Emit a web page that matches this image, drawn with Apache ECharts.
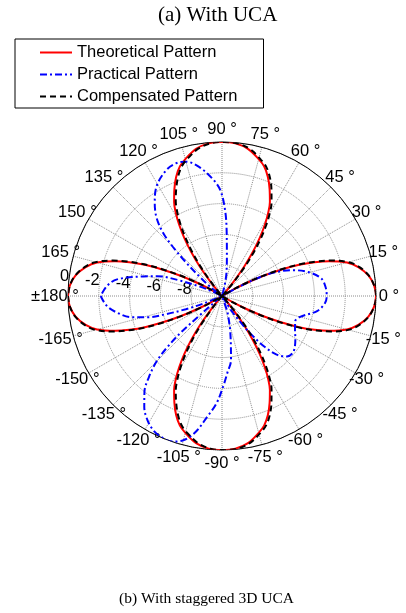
<!DOCTYPE html>
<html><head><meta charset="utf-8">
<script src="https://cdn.jsdelivr.net/npm/echarts@6/dist/echarts.min.js"></script>
<style>html,body{margin:0;padding:0;background:#fff}#c{width:406px;height:613px}</style>
</head><body><div id="c"></div>
<script>
// ---- data (angle in degrees, gain in dB) ----
const seriesNames = ['Theoretical Pattern', 'Practical Pattern', 'Compensated Pattern'];
const radialTicks = [-10, -8, -6, -4, -2, 0];
const angleStep = 15;

const theoAngles = [-180,-176,-172,-168,-165,-162,-160,-158,-156,-154,-152,-150,-148,
  -133,-131,-129,-127,-125,-123,-121,-119,-117,-114,-111,-108,-105,-100,-95,-90,-85,-80,-75,-72,-69,-66,-63,-61,-59,-57,-55,-53,-51,-49,-47,
  -32,-30,-28,-26,-24,-22,-20,-18,-15,-12,-8,-4,0,4,8,12,15,18,20,22,24,26,28,30,32,
  47,49,51,53,55,57,59,61,63,66,69,72,75,80,85,90,95,100,105,108,111,114,117,119,121,123,125,127,129,131,133,
  148,150,152,154,156,158,160,162,165,168,172,176,180];
const theoValues = [0,-0.1,-0.4,-0.95,-1.6,-2.7,-3.6,-4.6,-5.8,-7.0,-8.2,-9.2,-10,
  -10,-9.7,-8.8,-7.6,-6.5,-5.5,-4.6,-3.8,-3.15,-2.4,-1.7,-1.15,-0.8,-0.3,-0.05,0,-0.05,-0.3,-0.8,-1.15,-1.7,-2.4,-3.15,-3.8,-4.6,-5.5,-6.5,-7.6,-8.8,-9.7,-10,
  -10,-9.2,-8.2,-7.0,-5.8,-4.6,-3.6,-2.7,-1.6,-0.95,-0.4,-0.1,0,-0.1,-0.4,-0.95,-1.6,-2.7,-3.6,-4.6,-5.8,-7.0,-8.2,-9.2,-10,
  -10,-9.7,-8.8,-7.6,-6.5,-5.5,-4.6,-3.8,-3.15,-2.4,-1.7,-1.15,-0.8,-0.3,-0.05,0,-0.05,-0.3,-0.8,-1.15,-1.7,-2.4,-3.15,-3.8,-4.6,-5.5,-6.5,-7.6,-8.8,-9.7,-10,
  -10,-9.2,-8.2,-7.0,-5.8,-4.6,-3.6,-2.7,-1.6,-0.95,-0.4,-0.1,0];

const pracAngles = [-180,-175,-171,-167,-164,-162,-160,-158,-156,
  -141,-140,-139,-138.5,-137,-135,-132,-129,-125,-121,-117,-113,-109,-105,-101,-97,-93,-89,-86,-82,-77,-73,-71,-68,
  -60,-57,-55,-53,-50,-47,-43,-39,-35,-30,-25,-19,-15,-9,-4,0,5,10,15,20,24,26.5,28,30,
  74,76,79,83,86,88,91,95,100,105,109,114,121,126,130,133,135,137,139,142,145,
  153,155,157,160,163,166,171,175,180];
const pracValues = [-2.12,-2.5,-3.1,-3.9,-5.0,-6.2,-7.5,-8.7,-10,
  -10,-9.2,-8.0,-6.5,-5.2,-4.0,-2.9,-2.0,-1.2,-0.6,-0.2,-0.02,0,-0.3,-1.0,-2.1,-3.0,-4.2,-5.0,-5.8,-7.6,-8.6,-9.0,-10,
  -10,-8.8,-8.0,-7.0,-5.7,-4.8,-4.24,-4.1,-4.23,-4.5,-4.77,-4.97,-4.75,-3.75,-3.3,-3.2,-3.25,-3.45,-4.1,-5.1,-6.2,-7.3,-8.5,-10,
  -10,-9.3,-8.5,-7.4,-5.7,-4.4,-3.1,-2.3,-1.5,-0.97,-0.88,-1.07,-1.73,-2.57,-3.4,-4.4,-5.5,-6.8,-8.0,-9.0,-10,
  -10,-9.3,-8.45,-7.0,-5.6,-4.75,-3.1,-2.5,-2.12];

const compAngles = [-180,-176,-172,-168,-165,-162,-160,-158,-156,-154,-152,-150,-148,
  -132,-130,-128,-126,-124,-122,-120,-118,-116,-113,-110,-107,-104,-99,-94,-89,-84,-79,-74,-71,-68,-65,-62,-60,-58,-56,-54,-52,-50,-48,-46,
  -32,-30,-28,-26,-24,-22,-20,-18,-15,-12,-8,-4,0,4,8,12,15,18,20,22,24,26,28,30,32,
  46,48,50,52,54,56,58,60,62,65,68,71,74,79,84,89,94,99,104,107,110,113,116,118,120,122,124,126,128,130,132,
  148,150,152,154,156,158,160,162,165,168,172,176,180];
const compValues = [0,-0.1,-0.38,-0.9,-1.5,-2.55,-3.45,-4.45,-5.65,-6.9,-8.1,-9.1,-10,
  -10,-9.7,-8.8,-7.6,-6.5,-5.5,-4.6,-3.8,-3.15,-2.4,-1.7,-1.15,-0.8,-0.3,-0.05,0,-0.05,-0.3,-0.8,-1.15,-1.7,-2.4,-3.15,-3.8,-4.6,-5.5,-6.5,-7.6,-8.8,-9.7,-10,
  -10,-9.1,-8.1,-6.9,-5.65,-4.45,-3.45,-2.55,-1.5,-0.9,-0.38,-0.1,0,-0.1,-0.38,-0.9,-1.5,-2.55,-3.45,-4.45,-5.65,-6.9,-8.1,-9.1,-10,
  -10,-9.7,-8.8,-7.6,-6.5,-5.5,-4.6,-3.8,-3.15,-2.4,-1.7,-1.15,-0.8,-0.3,-0.05,0,-0.05,-0.3,-0.8,-1.15,-1.7,-2.4,-3.15,-3.8,-4.6,-5.5,-6.5,-7.6,-8.8,-9.7,-10,
  -10,-9.1,-8.1,-6.9,-5.65,-4.45,-3.45,-2.55,-1.5,-0.9,-0.38,-0.1,0];

// ---- chart ----
const toPairs = (angs, vals) => angs.map((a, i) => [vals[i], a]);
const rMin = radialTicks[0], rMax = radialTicks[radialTicks.length - 1];
const center = [222, 296], radius = 154;
const font = 'Liberation Sans, Arial, Helvetica, sans-serif';
const labelSize = 16.5, labelLH = 17;

// Angle labels: MATLAB centres each label on a circle slightly outside the plot.
// ECharts anchors them at a corner, so a per-label rich padding re-centres them.
const labelMargin = -60, labelRadius = 167;
const angleText = v => v === 180 ? '' : (v === -180 ? '\u00b1180 \u00b0' : v + ' \u00b0');
const measureCtx = document.createElement('canvas').getContext('2d');
measureCtx.font = labelSize + 'px ' + font;
const angleRich = {};
for (let v = -180; v <= 180; v += angleStep) {
  const txt = angleText(v);
  const w = measureCtx.measureText(txt).width, h = labelLH;
  const th = v * Math.PI / 180, ux = Math.cos(th), uy = -Math.sin(th);
  const ra = radius + labelMargin;
  const px = ra * ux, py = ra * uy;
  const ax = Math.abs(px) / radius < 0.3 ? 0 : (px > 0 ? 1 : -1);
  const ay = Math.abs(py) / radius < 0.3 ? 0 : (py > 0 ? 1 : -1);
  const dx = labelRadius * ux - (px + ax * w / 2);
  const dy = labelRadius * uy - (py + ay * h / 2);
  let pl = 0, pr = 0, pt = 0, pb = 0;
  if (ax === 1) pl = Math.max(0, dx); else if (ax === -1) pr = Math.max(0, -dx);
  else { if (dx > 0) pl = 2 * dx; else pr = -2 * dx; }
  if (dy > 0) pt = 2 * dy; else pb = -2 * dy;
  angleRich['a' + (v + 180)] = {padding: [pt, pr, pb, pl], fontSize: labelSize, lineHeight: labelLH,
    fontFamily: font, color: '#000'};
}

const chart = echarts.init(document.getElementById('c'), null, {renderer: 'canvas'});
chart.setOption({
  backgroundColor: '#fff',
  animation: false,
  title: [
    {text: '(a) With UCA', left: 158, top: 5, padding: 0,
     textStyle: {fontFamily: 'Liberation Serif, Times New Roman, serif', fontSize: 21, fontWeight: 'normal', color: '#000'}},
    {text: '(b) With staggered 3D UCA', left: 119, top: 591, padding: 0,
     textStyle: {fontFamily: 'Liberation Serif, Times New Roman, serif', fontSize: 15.5, fontWeight: 'normal', color: '#000'}}
  ],
  legend: {
    orient: 'vertical', left: 15, top: 39,
    padding: [5, 26, 3, 24],
    itemWidth: 32, itemHeight: 14, itemGap: 5,
    borderColor: '#000', borderWidth: 1, borderRadius: 0,
    itemStyle: {opacity: 0},
    textStyle: {fontFamily: font, fontSize: 16.5, color: '#000', lineHeight: 17},
    data: seriesNames
  },
  polar: [
    {center: center, radius: radius},
    {center: center, radius: radius}
  ],
  angleAxis: [
    {polarIndex: 0, type: 'value', min: -180, max: 180, interval: angleStep,
     startAngle: 180, clockwise: false,
     axisLine: {show: true, lineStyle: {color: '#000', width: 1}},
     axisTick: {show: false},
     splitLine: {show: true, lineStyle: {color: '#8c8c8c', type: 'dotted', width: 1}},
     axisLabel: {margin: labelMargin, color: '#000', fontFamily: font, fontSize: labelSize, rich: angleRich,
       formatter: v => v === 180 ? '' : '{a' + (v + 180) + '|' + angleText(v) + '}'}},
    {polarIndex: 1, type: 'value', min: 0, max: 360, startAngle: 174, clockwise: false, show: false}
  ],
  radiusAxis: [
    {polarIndex: 0, type: 'value', min: rMin, max: rMax, interval: 2,
     axisLine: {show: false}, axisTick: {show: false}, axisLabel: {show: false},
     splitLine: {show: true, lineStyle: {color: '#8c8c8c', type: 'dotted', width: 1}}},
    {polarIndex: 1, type: 'value', min: rMin, max: rMax, interval: 2,
     axisLine: {show: false}, axisTick: {show: false}, splitLine: {show: false},
     axisLabel: {show: true, margin: -3, color: '#000', fontFamily: font, fontSize: labelSize,
       formatter: v => v === rMin ? '' : String(v)}}
  ],
  series: [
    {name: seriesNames[0], type: 'line', coordinateSystem: 'polar', polarIndex: 0,
     data: toPairs(theoAngles, theoValues), symbol: 'none', smooth: 0.35,
     lineStyle: {color: '#ff0000', width: 2, type: 'solid'}, itemStyle: {color: '#ff0000'}},
    {name: seriesNames[1], type: 'line', coordinateSystem: 'polar', polarIndex: 0,
     data: toPairs(pracAngles, pracValues), symbol: 'none', smooth: 0.35,
     lineStyle: {color: '#0000ff', width: 2, type: [7, 3, 2, 3]}, itemStyle: {color: '#0000ff'}},
    {name: seriesNames[2], type: 'line', coordinateSystem: 'polar', polarIndex: 0,
     data: toPairs(compAngles, compValues), symbol: 'none', smooth: 0.35,
     lineStyle: {color: '#000000', width: 2, type: [6, 4]}, itemStyle: {color: '#000000'}}
  ]
});
</script></body></html>
